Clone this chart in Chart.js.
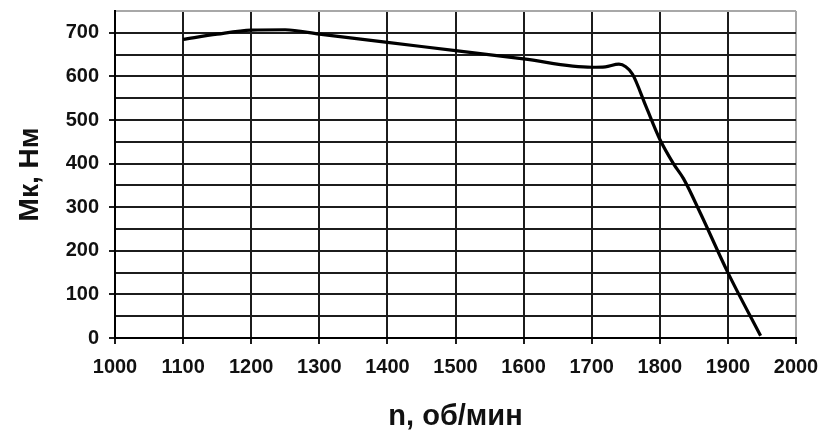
<!DOCTYPE html>
<html>
<head>
<meta charset="utf-8">
<script src="https://cdn.jsdelivr.net/npm/chart.js@4"></script>
<style>
  html, body { margin: 0; padding: 0; background: #fff; }
  #wrap { width: 822px; height: 438px; }
</style>
</head>
<body>
<div id="wrap"><canvas id="torqueChart" width="822" height="438"></canvas></div>
<script>
// engine speed, rpm
const rpm = [1100, 1150, 1200, 1250, 1300, 1400, 1500, 1600, 1700, 1720, 1740, 1750, 1760, 1780, 1800, 1820, 1835, 1860, 1900, 1948];
// torque, N·m
const torque = [685, 697, 706, 707, 697, 678, 659, 640, 621, 622, 628, 622, 605, 530, 456, 400, 365, 285, 150, 5];

const xTicks = [1000, 1100, 1200, 1300, 1400, 1500, 1600, 1700, 1800, 1900, 2000];
const yLabels = [0, 100, 200, 300, 400, 500, 600, 700];

const FONT = "'Liberation Sans', Arial, sans-serif";
const gridDark = "#1c1c1c";
const edgeGray = "#a8a8a8";

const points = rpm.map((n, i) => ({ x: n, y: torque[i] }));

const ctx = document.getElementById("torqueChart").getContext("2d");
new Chart(ctx, {
  type: "scatter",
  data: {
    datasets: [
      {
        data: points,
        showLine: true,
        borderColor: "#000",
        borderWidth: 3.2,
        pointRadius: 0,
        cubicInterpolationMode: "monotone",
      },
    ],
  },
  options: {
    responsive: false,
    animation: false,
    layout: { padding: { top: 11, right: 26, left: 0, bottom: 0 } },
    plugins: { legend: { display: false }, tooltip: { enabled: false } },
    scales: {
      x: {
        type: "linear",
        min: 1000,
        max: 2000,
        afterBuildTicks: (scale) => {
          scale.ticks = xTicks.map((v) => ({ value: v }));
        },
        afterFit: (scale) => {
          scale.height = 100;
          // labels at the ends may overhang the plot
          scale.paddingLeft = 0;
          scale.paddingRight = 0;
        },
        grid: {
          color: (c) => (c.tick && c.tick.value === 2000 ? edgeGray : gridDark),
          tickColor: gridDark,
          lineWidth: 2,
          tickLength: 6,
        },
        border: { display: true, color: "#000", width: 2 },
        ticks: {
          padding: 11,
          autoSkip: false,
          maxRotation: 0,
          color: "#111",
          font: { family: FONT, size: 20, weight: "bold" },
          callback: (v) => String(v),
        },
        title: {
          display: true,
          text: "n, об/мин",
          color: "#111",
          padding: { top: 0, bottom: 4 },
          font: { family: FONT, size: 29, weight: "bold" },
        },
      },
      y: {
        type: "linear",
        min: 0,
        max: 750,
        afterFit: (scale) => {
          scale.width = 115;
          scale.paddingTop = 0;
          scale.paddingBottom = 0;
        },
        grid: {
          color: (c) => (c.tick && c.tick.value === 750 ? edgeGray : gridDark),
          tickColor: (c) =>
            c.tick && yLabels.includes(c.tick.value) ? gridDark : "rgba(0,0,0,0)",
          lineWidth: 2,
          tickLength: 6,
        },
        border: { display: true, color: "#000", width: 2 },
        ticks: {
          stepSize: 50,
          autoSkip: false,
          padding: 10,
          color: "#111",
          font: { family: FONT, size: 20, weight: "bold" },
          callback: (v) => (yLabels.includes(v) ? String(v) : ""),
        },
        title: {
          display: true,
          text: "Мк, Нм",
          color: "#111",
          padding: { top: 13, bottom: 0 },
          font: { family: FONT, size: 28, weight: "bold" },
        },
      },
    },
  },
});
</script>
</body>
</html>
